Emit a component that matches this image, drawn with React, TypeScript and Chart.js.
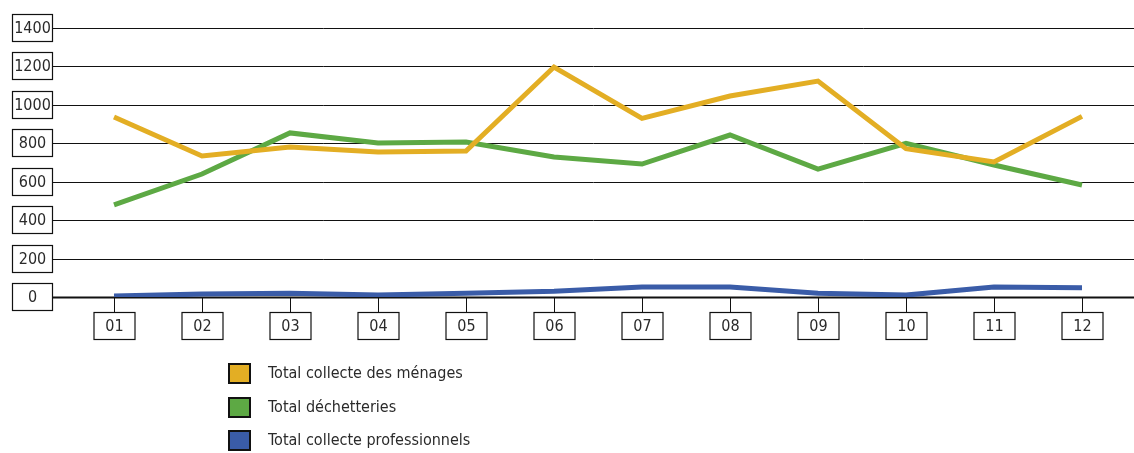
import React, { useEffect, useRef } from "react";
import { Chart, registerables } from "chart.js";

Chart.register(...registerables);

const months = ["01", "02", "03", "04", "05", "06", "07", "08", "09", "10", "11", "12"];
const menages = [937, 734, 781, 755, 760, 1197, 930, 1046, 1124, 772, 703, 940];
const decheteries = [479, 640, 854, 802, 807, 729, 692, 843, 666, 800, 687, 583];
const professionnels = [5, 15, 20, 10, 20, 30, 52, 52, 20, 10, 52, 48];
const yTicks = [0, 200, 400, 600, 800, 1000, 1200, 1400];
const seriesNames = ["Total collecte des ménages", "Total déchetteries", "Total collecte professionnels"];
const seriesColors = ["#E3AE24", "#5DA944", "#3A5CA8"];

const FONT = '"Liberation Sans Narrow", "DejaVu Sans Condensed", "Roboto Condensed", sans-serif';

const decorPlugin = {
  id: "decor",
  beforeDatasetsDraw(chart: any) {
    const ctx = chart.ctx;
    const y = chart.scales.y;
    const x = chart.scales.x;
    ctx.save();
    ctx.strokeStyle = "#111";
    yTicks.forEach((v) => {
      const py = Math.round(y.getPixelForValue(v)) + 0.5;
      ctx.lineWidth = v === 0 ? 2 : 1;
      ctx.beginPath();
      ctx.moveTo(53, py);
      ctx.lineTo(chart.width, py);
      ctx.stroke();
    });
    const y0 = y.getPixelForValue(0);
    ctx.lineWidth = 1;
    months.forEach((m, i) => {
      const px = Math.round(x.getPixelForValue(i)) + 0.5;
      ctx.beginPath();
      ctx.moveTo(px, y0);
      ctx.lineTo(px, y0 + 15);
      ctx.stroke();
    });
    ctx.restore();
  },
  afterDraw(chart: any) {
    const ctx = chart.ctx;
    const y = chart.scales.y;
    const x = chart.scales.x;
    ctx.save();
    ctx.font = "16px " + FONT;
    ctx.textAlign = "center";
    ctx.textBaseline = "middle";
    ctx.strokeStyle = "#111";
    ctx.lineWidth = 1.2;
    yTicks.forEach((v) => {
      const py = Math.round(y.getPixelForValue(v));
      ctx.fillStyle = "#fff";
      ctx.fillRect(12.5, py - 13.5, 40, 27);
      ctx.strokeRect(12.5, py - 13.5, 40, 27);
      ctx.fillStyle = "#2a2a2a";
      ctx.fillText(String(v), 32.5, py + 1);
    });
    const y0 = Math.round(y.getPixelForValue(0));
    months.forEach((m, i) => {
      const px = Math.round(x.getPixelForValue(i));
      const top = y0 + 15.5;
      ctx.fillStyle = "#fff";
      ctx.fillRect(px - 20, top, 41, 27);
      ctx.strokeRect(px - 20, top, 41, 27);
      ctx.fillStyle = "#2a2a2a";
      ctx.fillText(m, px + 0.5, top + 14);
    });
    ctx.textAlign = "left";
    ctx.font = "16px " + FONT;
    const rows = [374, 408, 441];
    seriesNames.forEach((name, i) => {
      const cy = rows[i];
      ctx.fillStyle = seriesColors[i];
      ctx.fillRect(229, cy - 10, 21, 19);
      ctx.lineWidth = 2;
      ctx.strokeStyle = "#111";
      ctx.strokeRect(229, cy - 10, 21, 19);
      ctx.fillStyle = "#2a2a2a";
      ctx.fillText(name, 268, cy);
    });
    ctx.restore();
  },
};

export default function App() {
  const ref = useRef<HTMLCanvasElement>(null);
  useEffect(() => {
    document.body.style.margin = "0";
    const data = [menages, decheteries, professionnels];
    const chart = new Chart(ref.current!, {
      type: "line",
      data: {
        labels: months,
        datasets: data.map((d, i) => ({
          label: seriesNames[i],
          data: d,
          borderColor: seriesColors[i],
          backgroundColor: seriesColors[i],
          borderWidth: 5,
          pointRadius: 0,
          tension: 0,
          fill: false,
        })),
      },
      options: {
        animation: false,
        responsive: false,
        layout: { padding: { top: 28, bottom: 156, left: 70, right: 8 } },
        plugins: { legend: { display: false }, tooltip: { enabled: false } },
        scales: {
          x: { display: false, offset: true },
          y: { display: false, min: 0, max: 1400 },
        },
      },
      plugins: [decorPlugin],
    });
    return () => chart.destroy();
  }, []);
  return <canvas ref={ref} width={1134} height={453} style={{ display: "block" }} />;
}
